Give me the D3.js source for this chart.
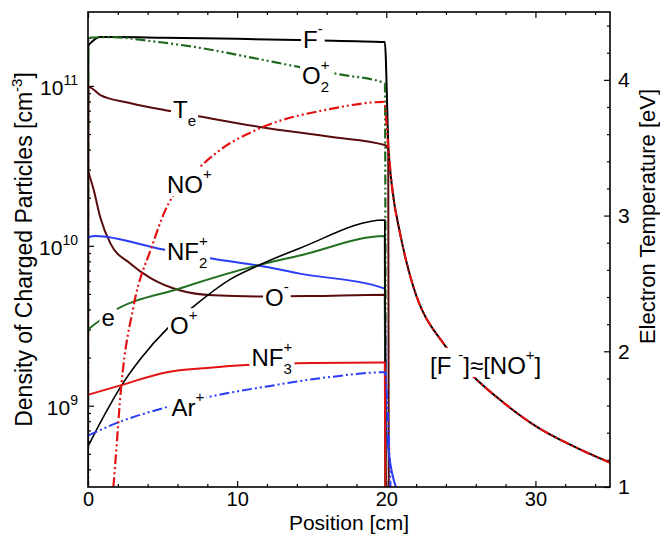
<!DOCTYPE html>
<html><head><meta charset="utf-8">
<script src="https://cdn.jsdelivr.net/npm/d3@7"></script>
<style>
body{margin:0;background:#fff;}
svg{display:block;font-family:"Liberation Sans",Arial,sans-serif;}
</style></head><body>
<svg id="chart" width="660" height="534"></svg>
<script>
// ---------- data ----------
const positionTicks = [0, 10, 20, 30];
const densityTicks = [1e9, 1e10, 1e11];
const densityTickExp = ["9", "10", "11"];
const tempTicks = [1, 2, 3, 4];

// F- (black solid)
const fMinusX = [0, 0.02, 0.3, 0.8, 2, 5, 10, 15, 19.9, 20.15, 20.36, 20.92, 21.37, 21.8, 23.9, 25.6, 28, 30.07, 32.5, 35];
const fMinusN = [1e8, 1.78e11, 1.9e11, 2.02e11, 2.02e11, 2.0e11, 1.97e11, 1.93e11, 1.88e11, 4.0e10, 2.45e10, 1.2e10, 7.8e9, 5.6e9, 2.4e9, 1.6e9, 1.02e9, 7.4e8, 5.6e8, 4.4e8];
// O2+ (green dash-dot-dot)
const o2PlusX = [0, 0.02, 1.48, 4.16, 7.51, 10.86, 14.22, 16.9, 19.91, 19.97];
const o2PlusN = [1e8, 2.0e11, 2.02e11, 1.91e11, 1.73e11, 1.51e11, 1.31e11, 1.18e11, 1.04e11, 1e8];
// Te (maroon, right axis, eV)
const teX = [0, 0.02, 0.8, 2.8, 5.5, 7.5, 11.4, 16.25, 19.9, 20.13, 20.17];
const teEV = [1.0, 3.95, 3.89, 3.83, 3.77, 3.73, 3.655, 3.58, 3.52, 3.485, 0.8];
// O- (maroon solid)
const oMinusX = [0, 0.38, 0.82, 1.5, 2.83, 4.17, 6.2, 8.4, 11.5, 15, 19.9, 19.98];
const oMinusN = [2.95e10, 2.24e10, 1.51e10, 1.035e10, 7.76e9, 6.3e9, 5.25e9, 4.9e9, 4.82e9, 4.85e9, 4.94e9, 1e8];
// NF2+ (blue solid)
const nf2PlusX = [0, 0.5, 4.84, 8.4, 11.5, 14.2, 19.9, 20.0, 20.75];
const nf2PlusN = [1.13e10, 1.15e10, 9.55e9, 8.3e9, 7.5e9, 6.7e9, 5.4e9, 7.1e8, 2.9e8];
// e (green solid)
const eX = [0, 1.5, 6.2, 11.5, 14.2, 19.9, 19.97];
const eN = [3.0e9, 3.8e9, 5.43e9, 7.6e9, 8.7e9, 1.15e10, 1e8];
// O+ (black thin)
const oPlusX = [0, 0.8, 1.5, 2.23, 3.5, 5.3, 7.07, 9.53, 11.5, 14.2, 19.9, 19.97];
const oPlusN = [5.56e8, 7.76e8, 1.02e9, 1.33e9, 1.95e9, 3.02e9, 4.17e9, 6.17e9, 7.59e9, 9.66e9, 1.45e10, 1e8];
// NF3+ (red solid)
const nf3PlusX = [0, 2.17, 5.3, 8, 10.9, 15, 19.9, 19.97];
const nf3PlusN = [1.17e9, 1.34e9, 1.62e9, 1.72e9, 1.8e9, 1.85e9, 1.86e9, 1e8];
// Ar+ (blue dash-dot-dot)
const arPlusX = [0, 1.94, 5.3, 8, 12, 16.2, 19.9, 20.15, 20.35];
const arPlusN = [6.5e8, 7.8e8, 9.8e8, 1.13e9, 1.32e9, 1.51e9, 1.62e9, 7.1e8, 2e8];
// NO+ (red dash-dot-dot)
const noPlusX = [1.45, 1.83, 2.23, 3.05, 4.3, 5.17, 7.07, 8.86, 11.4, 16.2, 19.85, 20.15, 20.36, 20.92, 21.37, 21.8, 23.9, 25.6, 28, 30.07, 32.5, 35];
const noPlusN = [1.6e8, 4.37e8, 1.33e9, 4.17e9, 1.0e10, 1.66e10, 2.82e10, 3.98e10, 5.37e10, 7.16e10, 7.94e10, 4.0e10, 2.45e10, 1.2e10, 7.8e9, 5.6e9, 2.4e9, 1.6e9, 1.02e9, 7.4e8, 5.6e8, 4.4e8];

// label texts and anchor (position cm, density at baseline)
const labelNames = ["F⁻", "O₂⁺", "Tₑ", "NO⁺", "NF₂⁺", "O⁻", "e", "O⁺", "NF₃⁺", "Ar⁺", "[F⁻]≈[NO⁺]"];
const labelPos = [14.42, 14.35, 5.70, 5.30, 5.30, 11.87, 0.905, 5.50, 10.96, 5.60, 22.93];
const labelDen = [1.73e11, 1.03e11, 6.3e10, 2.14e10, 8.15e9, 4.2e9, 3.15e9, 2.8e9, 1.77e9, 8.63e8, 1.58e9];

// ---------- chart ----------
const plot = {left: 88, top: 12, right: 610, bottom: 487};
const x = d3.scaleLinear().domain([0, 35]).range([plot.left, plot.right]);
const y = d3.scaleLog().domain([3.1e8, 2.9e11]).range([plot.bottom, plot.top]);
const yT = d3.scaleLinear().domain([1, 4.5]).range([plot.bottom, plot.top]);
const FONT = '"Liberation Sans", Arial, sans-serif';
const TICK_FS = 21;

const svg = d3.select("#chart");
svg.append("rect").attr("width", 660).attr("height", 534).attr("fill", "#fff");
svg.append("clipPath").attr("id", "clip").append("rect")
  .attr("x", plot.left).attr("y", plot.top)
  .attr("width", plot.right - plot.left).attr("height", plot.bottom - plot.top);

function styleAxis(g, size) {
  g.attr("font-family", FONT).attr("font-size", size);
  g.select(".domain").remove();
  g.selectAll(".tick line").attr("stroke", "#000").attr("stroke-width", 1.2);
  g.selectAll(".tick text").attr("fill", "#000");
}

// minor tick positions
const xMinor = d3.range(2, 35, 2).filter(v => v % 10 !== 0);
const yMinor = [];
[8, 9, 10, 11].forEach(e => { for (let k = 2; k <= 9; k++) { const v = k * Math.pow(10, e); if (v > 3.1e8 && v < 2.9e11) yMinor.push(v); } });
const tMinor = d3.range(12, 45, 2).map(v => v / 10).filter(v => Math.abs(v - Math.round(v)) > 1e-6);

// bottom axis
svg.append("g").attr("transform", `translate(0,${plot.bottom})`)
  .call(d3.axisBottom(x).tickValues(positionTicks).tickSize(-6).tickPadding(5)).call(g => styleAxis(g, 20));
svg.append("g").attr("transform", `translate(0,${plot.bottom})`)
  .call(d3.axisBottom(x).tickValues(xMinor).tickSize(-3).tickFormat("")).call(g => styleAxis(g, 20));
// top axis
svg.append("g").attr("transform", `translate(0,${plot.top})`)
  .call(d3.axisTop(x).tickValues(positionTicks).tickSize(-6).tickFormat("")).call(g => styleAxis(g, TICK_FS));
svg.append("g").attr("transform", `translate(0,${plot.top})`)
  .call(d3.axisTop(x).tickValues(xMinor).tickSize(-3).tickFormat("")).call(g => styleAxis(g, TICK_FS));
// left axis (log)
const leftAx = svg.append("g").attr("transform", `translate(${plot.left},0)`)
  .call(d3.axisLeft(y).tickValues(densityTicks).tickSize(-6).tickFormat(() => "")).call(g => styleAxis(g, TICK_FS));
leftAx.selectAll(".tick").each(function(d, i) {
  const t = d3.select(this).append("text").attr("x", -10).attr("dy", "0.4em")
    .attr("text-anchor", "end").attr("fill", "#000").attr("font-size", TICK_FS);
  t.append("tspan").text("10");
  t.append("tspan").attr("font-size", 14).attr("dy", -10).text(densityTickExp[i]);
});
svg.append("g").attr("transform", `translate(${plot.left},0)`)
  .call(d3.axisLeft(y).tickValues(yMinor).tickSize(-3).tickFormat(() => "")).call(g => styleAxis(g, TICK_FS));
// right axis (Te)
svg.append("g").attr("transform", `translate(${plot.right},0)`)
  .call(d3.axisRight(yT).tickValues(tempTicks).tickSize(-6).tickPadding(8).tickFormat(d3.format("d"))).call(g => styleAxis(g, TICK_FS));
svg.append("g").attr("transform", `translate(${plot.right},0)`)
  .call(d3.axisRight(yT).tickValues(tMinor).tickSize(-3).tickFormat("")).call(g => styleAxis(g, TICK_FS));

// curves
const lineN = d3.line().x(d => x(d[0])).y(d => y(d[1])).curve(d3.curveMonotoneX);
const lineT = d3.line().x(d => x(d[0])).y(d => yT(d[1])).curve(d3.curveMonotoneX);
const DDD = "10,3,2,3,2,3";
const series = [
  {xs: fMinusX, vs: fMinusN, color: "#000000", w: 2, dash: null, gen: lineN},
  {xs: o2PlusX, vs: o2PlusN, color: "#1f6a1f", w: 2.2, dash: DDD, gen: lineN},
  {xs: teX, vs: teEV, color: "#5a0c0c", w: 2, dash: null, gen: lineT},
  {xs: oMinusX, vs: oMinusN, color: "#5a0c0c", w: 2, dash: null, gen: lineN},
  {xs: nf2PlusX, vs: nf2PlusN, color: "#2a3cf5", w: 2, dash: null, gen: lineN},
  {xs: eX, vs: eN, color: "#237023", w: 2, dash: null, gen: lineN},
  {xs: oPlusX, vs: oPlusN, color: "#000000", w: 1.6, dash: null, gen: lineN},
  {xs: nf3PlusX, vs: nf3PlusN, color: "#e31212", w: 2, dash: null, gen: lineN},
  {xs: arPlusX, vs: arPlusN, color: "#2a3cf5", w: 2, dash: DDD, gen: lineN},
  {xs: noPlusX, vs: noPlusN, color: "#e31212", w: 2.2, dash: DDD, gen: lineN}
];
const curves = svg.append("g").attr("clip-path", "url(#clip)");
series.forEach(s => {
  curves.append("path").datum(s.xs.map((v, i) => [v, s.vs[i]]))
    .attr("d", s.gen).attr("fill", "none").attr("stroke", s.color)
    .attr("stroke-width", s.w).attr("stroke-dasharray", s.dash);
});

// labels (white box interrupts the curves, as in the reference)
function parseLabel(str) {
  const sup = {"⁻": "-", "⁺": "+"}, sub = {"₂": "2", "₃": "3", "ₑ": "e"};
  const segs = [];
  for (const ch of str) {
    let type = "n", t = ch;
    if (sup[ch]) { type = "sup"; t = sup[ch]; }
    else if (sub[ch]) { type = "sub"; t = sub[ch]; }
    const last = segs[segs.length - 1];
    if (last && last.type === type && type === "n") last.t += t; else segs.push({type, t});
  }
  return segs;
}
const labelG = svg.append("g").attr("font-family", FONT);
labelNames.forEach((name, i) => {
  const g = labelG.append("g");
  const bg = g.append("rect").attr("fill", "#fff");
  const text = g.append("text")
    .attr("x", x(labelPos[i])).attr("y", y(labelDen[i]))
    .attr("font-size", 24).attr("fill", "#000");
  const segs = parseLabel(name);
  let off = 0, lastSubW = 0, prevType = "n";
  segs.forEach(sg => {
    const ts = text.append("tspan").text(sg.t);
    let target = 0;
    if (sg.type === "sup") { target = -14; ts.attr("font-size", 15); }
    else if (sg.type === "sub") { target = 8; ts.attr("font-size", 15); }
    ts.attr("dy", target - off);
    if (sg.type === "sup" && prevType === "sub") ts.attr("dx", -lastSubW);
    if (sg.type === "sup" && name.startsWith("[F") && sg.t === "-") ts.attr("dx", 7);
    if (sg.type === "sub") lastSubW = ts.node().getComputedTextLength();
    off = target; prevType = sg.type;
  });
  const bb = text.node().getBBox();
  bg.attr("x", bb.x - 2).attr("y", bb.y + 2).attr("width", bb.width + 4).attr("height", bb.height - 4);
});

// axis titles
const lt = svg.append("text").attr("transform", "translate(32,249.5) rotate(-90)")
  .attr("text-anchor", "middle").attr("font-family", FONT).attr("font-size", 23).attr("fill", "#000");
lt.append("tspan").text("Density of Charged Particles [cm");
lt.append("tspan").attr("font-size", 15).attr("dy", -10).text("-3");
lt.append("tspan").attr("dy", 10).text("]");
svg.append("text").attr("transform", "translate(655,216.5) rotate(-90)")
  .attr("text-anchor", "middle").attr("font-family", FONT).attr("font-size", 22).attr("fill", "#000")
  .text("Electron Temperature [eV]");
svg.append("text").attr("x", 349).attr("y", 529.5)
  .attr("text-anchor", "middle").attr("font-family", FONT).attr("font-size", 21).attr("fill", "#000")
  .text("Position [cm]");

// frame
svg.append("rect").attr("x", plot.left).attr("y", plot.top)
  .attr("width", plot.right - plot.left).attr("height", plot.bottom - plot.top)
  .attr("fill", "none").attr("stroke", "#000").attr("stroke-width", 1.6);
</script>
</body></html>
